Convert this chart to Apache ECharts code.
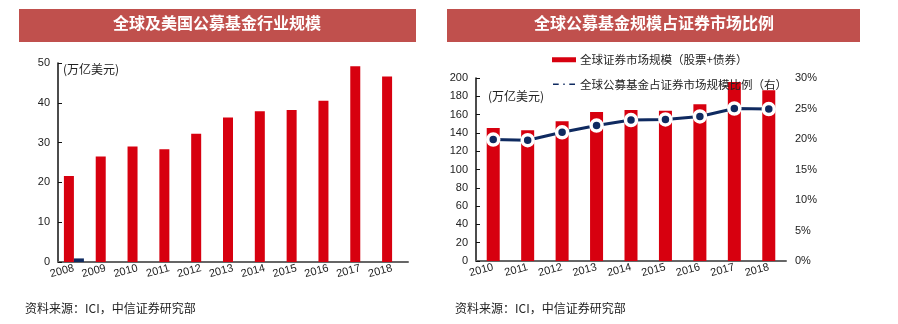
<!DOCTYPE html>
<html><head><meta charset="utf-8">
<script src="https://cdn.jsdelivr.net/npm/echarts@6/dist/echarts.min.js"></script>
<style>html,body{margin:0;padding:0;background:#fff}#c{width:898px;height:324px}</style>
</head><body><div id="c"></div><script>
// ---- data ----
const leftYears = ['2008','2009','2010','2011','2012','2013','2014','2015','2016','2017','2018'];
const globalFunds = [21.6, 26.5, 29.0, 28.3, 32.2, 36.3, 37.9, 38.2, 40.5, 49.2, 46.6];
const usFunds = [0.9, null, null, null, null, null, null, null, null, null, null];
const leftTicks = [0, 10, 20, 30, 40, 50];

const rightYears = ['2010','2011','2012','2013','2014','2015','2016','2017','2018'];
const marketSize = [145.4, 142.8, 152.7, 162.8, 165.0, 164.3, 171.2, 195.6, 186.5];
const fundRatio = [19.9, 19.8, 21.1, 22.2, 23.1, 23.2, 23.7, 25.0, 24.9];
const rightLeftTicks = [0, 20, 40, 60, 80, 100, 120, 140, 160, 180, 200];
const rightRightTicks = [0, 5, 10, 15, 20, 25, 30];

const leftTitle = '全球及美国公募基金行业规模';
const rightTitle = '全球公募基金规模占证券市场比例';
const unitLabel = '(万亿美元)';
const sourceText = '资料来源：ICI，中信证券研究部';
const seriesMarket = '全球证券市场规模（股票+债券）';
const seriesRatio = '全球公募基金占证券市场规模比例（右）';

const FONT = "'Liberation Sans','Noto Sans CJK SC',sans-serif";
const RED = '#d7000f';
const NAVY = '#0f2a60';
const TXT = '#222';

const chart = echarts.init(document.getElementById('c'), null, {renderer: 'canvas'});

const xAxisBase = (data, gi) => ({
  type: 'category', gridIndex: gi, data: data,
  axisLine: {lineStyle: {color: '#666', width: 2}},
  axisTick: {show: false},
  axisLabel: {color: TXT, fontSize: 11, fontFamily: FONT, rotate: 15, margin: 6, interval: 0}
});
const yAxisLeft = (gi, max, interval) => ({
  type: 'value', gridIndex: gi, min: 0, max: max, interval: interval,
  axisLine: {show: true, lineStyle: {color: '#111', width: 1.5}},
  axisTick: {show: true, inside: true, length: 4, lineStyle: {color: '#111'}},
  splitLine: {show: false},
  axisLabel: {color: TXT, fontSize: 11, fontFamily: FONT, margin: 8}
});

chart.setOption({
  animation: false,
  textStyle: {fontFamily: FONT},
  graphic: [
    {type: 'rect', left: 19, top: 9, shape: {width: 397, height: 33}, style: {fill: '#c0504d'}},
    {type: 'rect', left: 447, top: 9, shape: {width: 413, height: 33}, style: {fill: '#c0504d'}},
    {type: 'text', top: 15, left: 113, style: {text: leftTitle, fill: '#fff', font: "bold 16px 'Noto Sans CJK SC'"}},
    {type: 'text', top: 15, left: 534, style: {text: rightTitle, fill: '#fff', font: "bold 16px 'Noto Sans CJK SC'"}},
    {type: 'text', left: 63, top: 63, style: {text: unitLabel, fill: TXT, font: "12px 'Noto Sans CJK SC'"}},
    {type: 'text', left: 488, top: 90, style: {text: unitLabel, fill: TXT, font: "12px 'Noto Sans CJK SC'"}},
    {type: 'text', left: 25, top: 302, style: {text: sourceText, fill: TXT, font: "12px 'Noto Sans CJK SC'"}},
    {type: 'text', left: 455, top: 302, style: {text: sourceText, fill: TXT, font: "12px 'Noto Sans CJK SC'"}}
  ],
  legend: {
    orient: 'vertical', left: 546, top: 49, itemGap: 13,
    itemWidth: 24, itemHeight: 5,
    textStyle: {color: TXT, fontSize: 11.5, fontFamily: "'Noto Sans CJK SC'", padding: [0, 0, 0, -1]},
    data: [
      {name: seriesMarket, icon: 'rect'},
      {name: seriesRatio, icon: 'path://M0,0h9v4h-9z M12,0h4v4h-4z M19,0h9v4h-9z'}
    ]
  },
  grid: [
    {left: 58, right: 490, top: 63, bottom: 62},
    {left: 476, right: 112, top: 78, bottom: 63}
  ],
  xAxis: [xAxisBase(leftYears, 0), xAxisBase(rightYears, 1)],
  yAxis: [
    yAxisLeft(0, 50, 10),
    yAxisLeft(1, 200, 20),
    {
      type: 'value', gridIndex: 1, position: 'right', min: 0, max: 30, interval: 5,
      axisLine: {show: false}, axisTick: {show: false}, splitLine: {show: false},
      axisLabel: {color: TXT, fontSize: 11, fontFamily: FONT, margin: 9, formatter: '{value}%'}
    }
  ],
  series: [
    {name: '全球', type: 'bar', xAxisIndex: 0, yAxisIndex: 0, data: globalFunds,
     barWidth: 10, barGap: '0%', itemStyle: {color: RED}},
    {name: '美国', type: 'bar', xAxisIndex: 0, yAxisIndex: 0, data: usFunds,
     barWidth: 10, barGap: '0%', itemStyle: {color: NAVY}},
    {name: seriesMarket, type: 'bar', xAxisIndex: 1, yAxisIndex: 1, data: marketSize,
     barWidth: 13, itemStyle: {color: RED}},
    {name: seriesRatio, type: 'line', xAxisIndex: 1, yAxisIndex: 2, data: fundRatio,
     symbol: 'circle', symbolSize: 11,
     lineStyle: {color: NAVY, width: 3},
     itemStyle: {color: NAVY, borderColor: '#fff', borderWidth: 3.5},
     z: 5}
  ]
});
</script></body></html>
